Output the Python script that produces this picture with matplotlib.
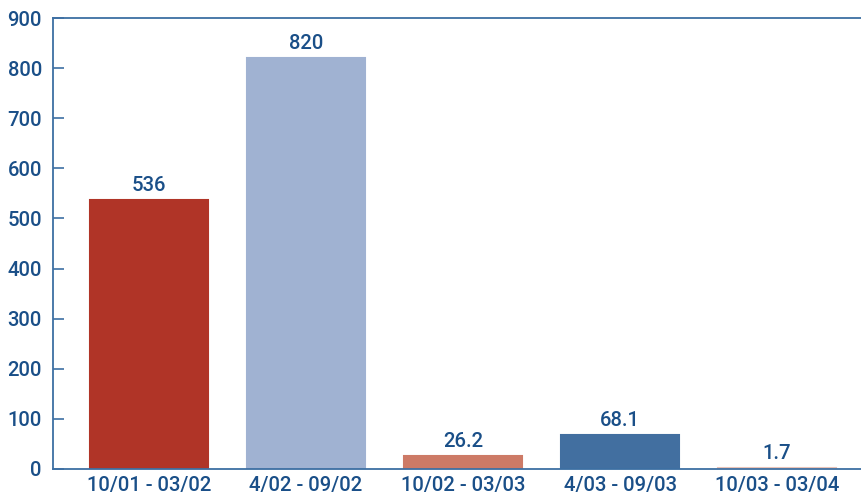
import matplotlib
matplotlib.use("Agg")
import matplotlib.pyplot as plt

categories = ["10/01 - 03/02", "4/02 - 09/02", "10/02 - 03/03", "4/03 - 09/03", "10/03 - 03/04"]
values = [536, 820, 26.2, 68.1, 1.7]
labels = ["536", "820", "26.2", "68.1", "1.7"]
colors = ["#b03427", "#a0b2d2", "#cd7a66", "#426fa0", "#e9c3b8"]
yticks = [0, 100, 200, 300, 400, 500, 600, 700, 800, 900]

plt.rcParams['font.family'] = ['Roboto', 'DejaVu Sans']
plt.rcParams['font.weight'] = 'medium'
txt = "#1a4f88"
spine = "#3d6fa3"
fs = 14.6

fig = plt.figure(figsize=(8.62, 5.0), dpi=100)
ax = fig.add_axes([53/862, 31/500, 1 - 53/862, (469-18)/500])
x = list(range(len(categories)))
ax.bar(x, values, width=0.75, color=colors, edgecolor=colors, linewidth=1.5)
for xi, v, lab in zip(x, values, labels):
    ax.text(xi, v + 10, lab, ha='center', va='bottom', fontsize=fs, color=txt)
ax.set_ylim(0, 900)
ax.set_xlim(-0.611, 4.541)
ax.set_yticks(yticks)
ax.set_xticks(x)
ax.set_xticklabels(categories)
ax.tick_params(axis='y', direction='in', length=8, width=1.2, color=spine, labelsize=fs, labelcolor=txt, pad=8)
ax.tick_params(axis='x', length=0, labelsize=fs, labelcolor=txt, pad=5)
for s in ['left', 'bottom', 'top']:
    ax.spines[s].set_color(spine)
    ax.spines[s].set_linewidth(1.3)
ax.spines['right'].set_visible(False)
fig.savefig("out.png", dpi=100)
